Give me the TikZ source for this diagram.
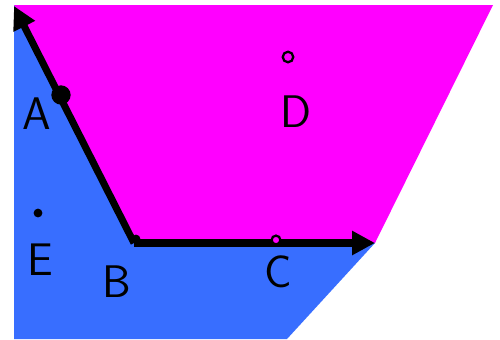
\documentclass[tikz,border=0pt]{standalone}
\usepackage{tikz}
\usetikzlibrary{arrows.meta}
\definecolor{regionpink}{RGB}{255,0,255}
\definecolor{regionblue}{RGB}{56,110,255}

\begin{document}
\begin{tikzpicture}[x=0.02cm, y=-0.02cm,
    vec/.style={line width=4pt, -{Triangle[length=13pt, width=13pt]}},
    pt/.style={circle, fill=black, inner sep=0pt, minimum size=#1},
    ring/.style={circle, draw=black, line width=1.3pt, inner sep=0pt, minimum size=#1},
    lbl/.style={font=\sffamily\fontsize{26}{30}\selectfont}]
    % Frame
    \useasboundingbox (0,0) rectangle (500,339);

    % Corner points
    \coordinate (O) at (134,243);
    \coordinate (tipA) at (14,6);
    \coordinate (tipC) at (375,243);

    % Regions
    \fill[regionpink] (14,5) -- (493,5) -- (tipC) -- (O) -- cycle;
    \fill[regionblue] (14,5) -- (O) -- (tipC) -- (287,339) -- (14,339) -- cycle;

    % Vectors
    \draw[vec] (O) -- (tipA);
    \draw[vec] (O) -- (tipC);

    % Points
    \node[pt=11pt] (pA) at (61,95) {};
    \node[pt=5pt] (pB) at (136,239) {};
    \node[ring=5pt, fill=regionpink] (pC) at (276,240) {};
    \node[ring=6pt] (pD) at (288,57) {};
    \node[pt=5pt] (pE) at (38,213) {};

    % Labels
    \node[lbl] (lA) at (37,114) {A};
    \node[lbl] (lB) at (117,282) {B};
    \node[lbl] (lC) at (278,272) {C};
    \node[lbl] (lD) at (296,112) {D};
    \node[lbl] (lE) at (40,260) {E};
\end{tikzpicture}
\end{document}
